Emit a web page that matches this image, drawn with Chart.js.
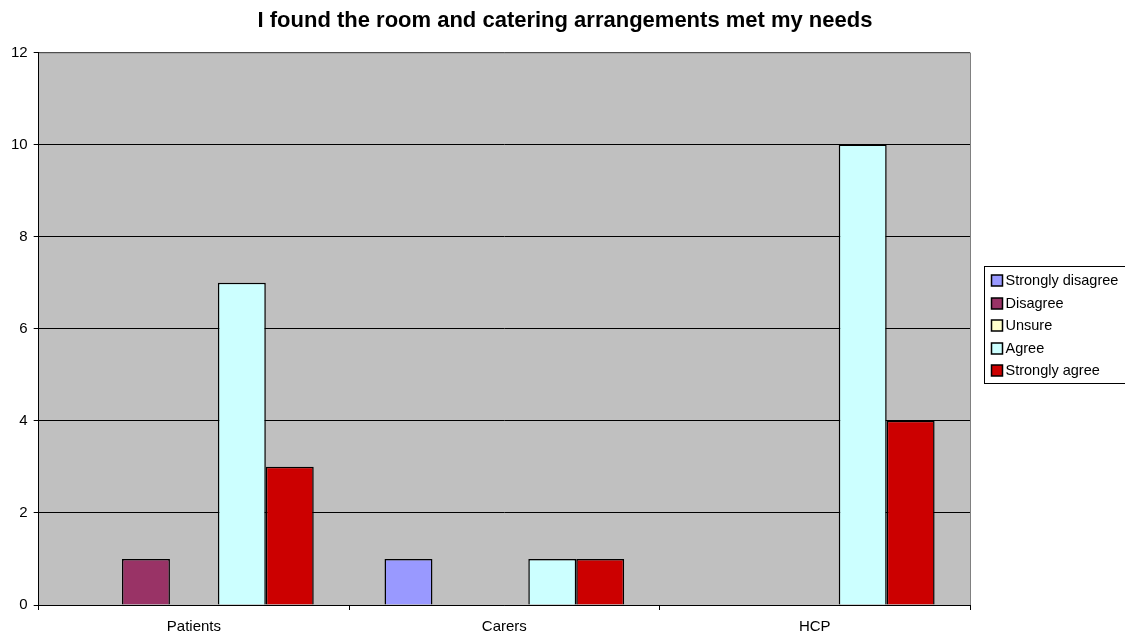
<!DOCTYPE html>
<html>
<head>
<meta charset="utf-8">
<script src="https://cdn.jsdelivr.net/npm/chart.js@4"></script>
<style>
body { margin: 0; background: #fff; }
</style>
</head>
<body>
<canvas id="chart" width="1125" height="635"></canvas>
<script>
const categories = ["Patients", "Carers", "HCP"];
const seriesNames = ["Strongly disagree", "Disagree", "Unsure", "Agree", "Strongly agree"];
const stronglyDisagree = [0, 1, 0];
const disagree = [1, 0, 0];
const unsure = [0, 0, 0];
const agree = [7, 1, 10];
const stronglyAgree = [3, 1, 4];
const colors = ["#9999FF", "#993366", "#FFFFCC", "#CCFFFF", "#CC0000"];

const FONT = "'Liberation Sans', Arial, sans-serif";
const allValues = [stronglyDisagree, disagree, unsure, agree, stronglyAgree];

var datasets = [];
for (i = 0; i < seriesNames.length; i++) {
    datasets.push({
        label: seriesNames[i],
        data: allValues[i],
        backgroundColor: colors[i],
        borderColor: "#000",
        borderWidth: 1.5,
        barPercentage: 1,
        categoryPercentage: 0.772
    });
}

// grey plot area, frame, and an Excel-style legend box on the right
const plotBg = {
    id: "plotBg",
    beforeDraw(chart) {
        const a = chart.chartArea;
        const ctx = chart.ctx;
        ctx.save();
        ctx.fillStyle = "#C0C0C0";
        ctx.fillRect(a.left, a.top, a.right - a.left, a.bottom - a.top);
        ctx.restore();
    },
    afterDraw(chart) {
        const a = chart.chartArea;
        const ctx = chart.ctx;
        ctx.save();
        ctx.strokeStyle = "#808080";
        ctx.lineWidth = 1;
        ctx.beginPath();
        ctx.moveTo(a.left + 0.5, a.top + 0.5);
        ctx.lineTo(a.right + 0.5, a.top + 0.5);
        ctx.lineTo(a.right + 0.5, a.bottom);
        ctx.stroke();

        // legend
        var rowH = 22.5;
        var n = seriesNames.length;
        var midY = (a.top + a.bottom) / 2 - 2.5;
        var frameX = Math.round(a.right + 14) + 0.5;
        var frameTop = Math.round(midY - (n * rowH) / 2 - 4) + 0.5;
        var frameBottom = Math.round(midY + (n * rowH) / 2 + 1) + 0.5;
        ctx.strokeStyle = "#000";
        ctx.lineWidth = 1;
        ctx.strokeRect(frameX, frameTop, chart.width + 5 - frameX, frameBottom - frameTop);
        ctx.font = "14.5px " + FONT;
        ctx.textBaseline = "middle";
        ctx.textAlign = "left";
        for (i = 0; i < n; i++) {
            var cy = midY - ((n - 1) / 2 - i) * rowH;
            var bx = frameX + 7;
            var by = Math.round(cy - 6);
            ctx.fillStyle = colors[i];
            ctx.fillRect(bx, by, 11, 11);
            ctx.lineWidth = 1.5;
            ctx.strokeStyle = "#000";
            ctx.strokeRect(bx, by, 11, 11);
            ctx.fillStyle = "#000";
            ctx.fillText(seriesNames[i], bx + 14, cy);
        }
        ctx.restore();
    }
};

let ctx = document.getElementById("chart").getContext("2d");
let myChart = new Chart(ctx, {
    type: "bar",
    data: {
        labels: categories,
        datasets: datasets
    },
    options: {
        responsive: false,
        animation: false,
        layout: {
            padding: { left: 5, right: 0, top: 0, bottom: 0 }
        },
        plugins: {
            title: {
                display: true,
                text: "I found the room and catering arrangements met my needs",
                color: "#000",
                font: { family: FONT, size: 22, weight: "bold" },
                padding: { top: 8, bottom: 18 }
            },
            legend: { display: false },
            tooltip: { enabled: false }
        },
        scales: {
            x: {
                grid: {
                    offset: true,
                    drawOnChartArea: false,
                    color: "#000",
                    tickLength: 5
                },
                border: { color: "#000" },
                ticks: {
                    color: "#000",
                    font: { family: FONT, size: 15 },
                    padding: 8
                },
                afterFit: function (scale) {
                    scale.height = 30;
                }
            },
            y: {
                min: 0,
                max: 12,
                ticks: {
                    stepSize: 2,
                    color: "#000",
                    font: { family: FONT, size: 15 },
                    padding: 6
                },
                grid: {
                    color: "#000",
                    tickLength: 5
                },
                border: { color: "#000" }
            },
            // empty right-hand axis that only reserves room for the legend box
            legendRoom: {
                position: "right",
                display: true,
                grid: { display: false, drawTicks: false },
                border: { display: false },
                ticks: { display: false },
                afterFit: function (scale) {
                    scale.width = 155;
                }
            }
        }
    },
    plugins: [plotBg]
});
</script>
</body>
</html>
